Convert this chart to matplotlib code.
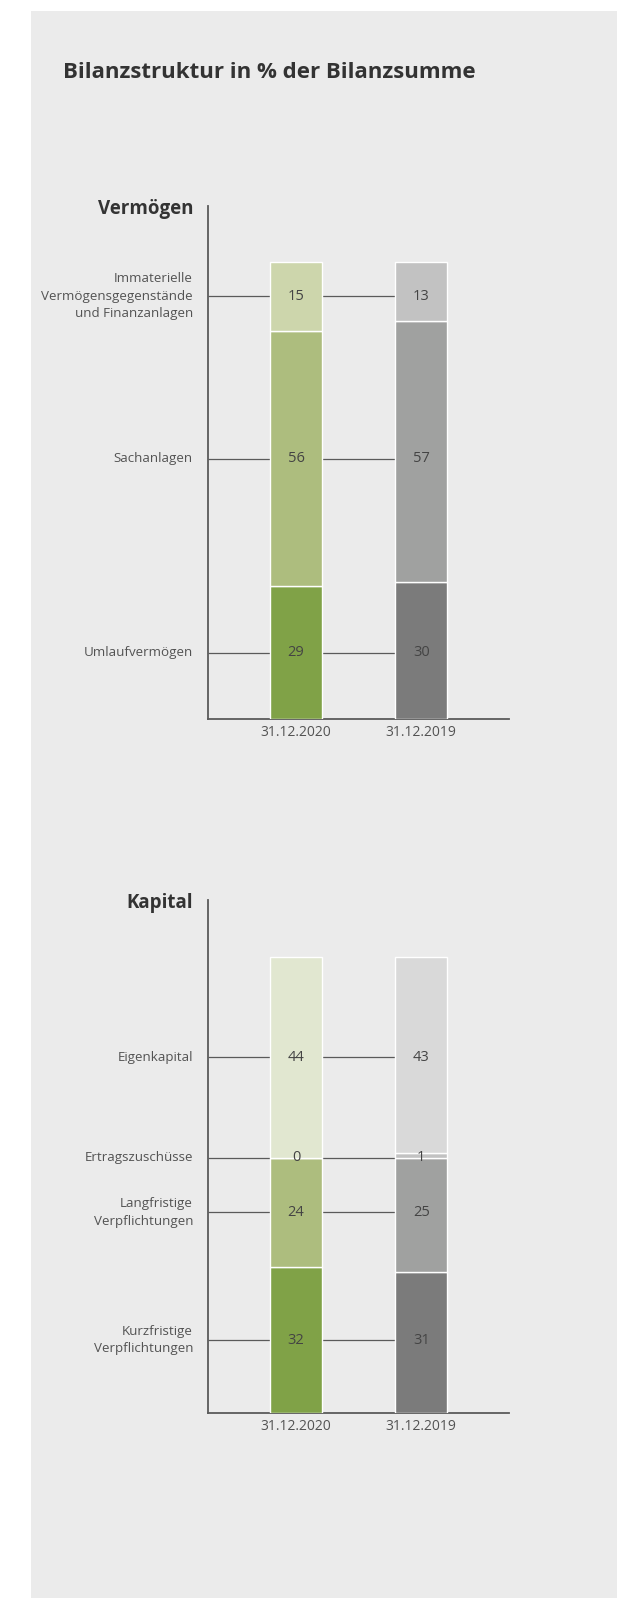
import matplotlib
matplotlib.use("Agg")
import matplotlib.pyplot as plt
from matplotlib.patches import Rectangle
from matplotlib import transforms
import numpy as np

plt.rcParams['font.family'] = ['Open Sans', 'DejaVu Sans']

LAB_SIZE = 9.6
NUM_SIZE = 10.5
TICK_SIZE = 10.0

# ---------------- data ----------------
title = "Bilanzstruktur in % der Bilanzsumme"
dates = ["31.12.2020", "31.12.2019"]

verm_title = "Vermögen"
verm_labels = ["Umlaufvermögen", "Sachanlagen",
               "Immaterielle\nVermögensgegenstände\nund Finanzanlagen"]
verm_2020 = [29, 56, 15]
verm_2019 = [30, 57, 13]
verm_colors_2020 = ["#80a247", "#adbd7e", "#cdd6ac"]
verm_colors_2019 = ["#7b7b7b", "#a0a1a0", "#c2c2c2"]

kap_title = "Kapital"
kap_labels = ["Kurzfristige\nVerpflichtungen", "Langfristige\nVerpflichtungen",
              "Ertragszuschüsse", "Eigenkapital"]
kap_2020 = [32, 24, 0, 44]
kap_2019 = [31, 25, 1, 43]
kap_colors_2020 = ["#80a247", "#adbd7e", "#cdd6ac", "#e1e7d0"]
kap_colors_2019 = ["#7b7b7b", "#a0a1a0", "#c2c2c2", "#d9d9d9"]

# ---------------- layout ----------------
W, H = 617, 1598
fig = plt.figure(figsize=(W / 100, H / 100), dpi=100)
fig.patch.set_facecolor("white")
fig.patches.append(Rectangle((31 / W, 0), 1 - 31 / W, 1 - 11 / H,
                             transform=fig.transFigure, facecolor="#ebebeb",
                             edgecolor="none", zorder=-10))

fig.text(63 / W, 1 - 73 / H, title, fontsize=16, fontweight="bold",
         color="#333333", ha="left", va="center")

AX_L, AX_R = 207.7, 509.0
C1, C2 = 296.0, 421.2
BW = 52.0
spacing = C2 - C1
xl = -(C1 - AX_L) / spacing
xr = 1 + (AX_R - C2) / spacing
bw = BW / spacing

label_col = "#535353"
axis_col = "#5a5a5a"


def draw_chart(ax_top, bar_top, ax_bottom, heading, labels, v2020, v2019,
               c2020, c2019):
    ax = fig.add_axes([AX_L / W, 1 - ax_bottom / H, (AX_R - AX_L) / W,
                       (ax_bottom - ax_top) / H])
    ax.set_facecolor("none")
    ymax = 100 * (ax_bottom - ax_top) / (ax_bottom - bar_top)
    ax.set_xlim(xl, xr)
    ax.set_ylim(0, ymax)
    for s in ["top", "right"]:
        ax.spines[s].set_visible(False)
    for s in ["left", "bottom"]:
        ax.spines[s].set_color(axis_col)
        ax.spines[s].set_linewidth(1.3)
    ax.set_yticks([])
    ax.set_xticks([0, 1])
    ax.set_xticklabels(dates, fontsize=TICK_SIZE, color=label_col)
    ax.tick_params(axis="x", length=0, pad=4)

    b20 = np.concatenate([[0], np.cumsum(v2020)[:-1]])
    b19 = np.concatenate([[0], np.cumsum(v2019)[:-1]])
    ax.bar([0] * len(v2020), v2020, bottom=b20, width=bw, color=c2020,
           edgecolor="white", linewidth=1.0, zorder=3)
    ax.bar([1] * len(v2019), v2019, bottom=b19, width=bw, color=c2019,
           edgecolor="white", linewidth=1.0, zorder=3)

    trans = transforms.blended_transform_factory(ax.transAxes, ax.transData)
    lab_x = -(AX_L - 193) / (AX_R - AX_L)
    for i, lab in enumerate(labels):
        y = b20[i] + v2020[i] / 2
        ax.plot([xl, -bw / 2], [y, y], color=axis_col, lw=0.9, zorder=2,
                solid_capstyle="butt")
        ax.plot([bw / 2, 1 - bw / 2], [y, y], color=axis_col, lw=0.9,
                zorder=2, solid_capstyle="butt")
        ax.text(lab_x, y, lab, transform=trans, ha="right", va="center",
                fontsize=LAB_SIZE, color=label_col, linespacing=1.45)
        ax.text(0, y, str(v2020[i]), ha="center", va="center",
                fontsize=NUM_SIZE, color="#444444", zorder=4)
        ax.text(1, y, str(v2019[i]), ha="center", va="center",
                fontsize=NUM_SIZE, color="#444444", zorder=4)

    fig.text(193 / W, 1 - (ax_top + 3) / H, heading, fontsize=13.5,
             fontweight="bold", color="#333333", ha="right", va="center")
    return ax


draw_chart(206, 262, 719, verm_title, verm_labels, verm_2020, verm_2019,
           verm_colors_2020, verm_colors_2019)
draw_chart(900, 957, 1413, kap_title, kap_labels, kap_2020, kap_2019,
           kap_colors_2020, kap_colors_2019)

fig.savefig("out.png", dpi=100, facecolor=fig.get_facecolor())
